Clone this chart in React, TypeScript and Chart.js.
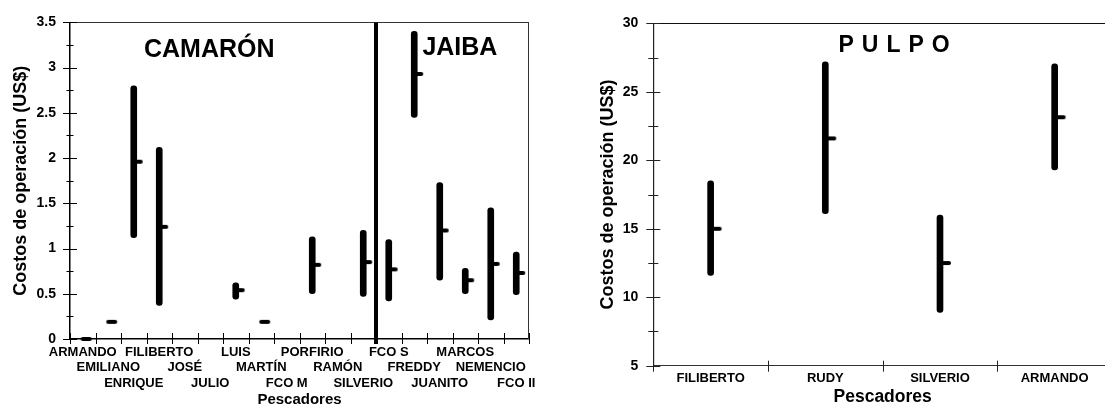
import React, { useEffect, useRef } from 'react';
import { Chart, registerables } from 'chart.js';

Chart.register(...registerables);

const FONT = '"Liberation Sans", Arial, Helvetica, sans-serif';

// ---- Left chart: CAMARÓN / JAIBA ----
const leftLabels = ['ARMANDO', 'EMILIANO', 'ENRIQUE', 'FILIBERTO', 'JOSÉ', 'JULIO', 'LUIS', 'MARTÍN', 'FCO M', 'PORFIRIO', 'RAMÓN', 'SILVERIO', 'FCO S', 'FREDDY', 'JUANITO', 'MARCOS', 'NEMENCIO', 'FCO II'];
const leftMin = [null, null, 1.12, 0.37, null, null, 0.44, null, null, 0.50, null, 0.47, 0.42, 2.45, 0.65, 0.50, 0.21, 0.49];
const leftMax = [null, null, 2.80, 2.12, null, null, 0.62, null, null, 1.13, null, 1.20, 1.10, 3.40, 1.73, 0.78, 1.45, 0.96];
const leftMean = [0, 0.19, 1.96, 1.24, null, null, 0.54, 0.19, null, 0.82, null, 0.85, 0.77, 2.93, 1.20, 0.65, 0.83, 0.73];
const leftYRange = [0, 3.5];
const leftYStep = 0.5;
const leftDividerAfter = 11; // between SILVERIO and FCO S
const leftSections = ['CAMARÓN', 'JAIBA'];

// ---- Right chart: PULPO ----
const rightLabels = ['FILIBERTO', 'RUDY', 'SILVERIO', 'ARMANDO'];
const rightMin = [11.6, 16.1, 8.9, 19.3];
const rightMax = [18.5, 27.2, 16.0, 27.05];
const rightMean = [15.0, 21.6, 12.5, 23.15];
const rightYRange = [5, 30];
const rightYStep = 5;
const rightSection = 'PULPO';

function makeTickImage(len: number, thick: number) {
  const c = document.createElement('canvas');
  const w = (len + thick) * 2 + 2;
  const h = thick + 4;
  c.width = w;
  c.height = h;
  const ctx = c.getContext('2d')!;
  ctx.strokeStyle = '#000';
  ctx.lineWidth = thick;
  ctx.lineCap = 'round';
  ctx.beginPath();
  ctx.moveTo(w / 2, h / 2);
  ctx.lineTo(w / 2 + len, h / 2);
  ctx.stroke();
  return c;
}

const decorPlugin = {
  id: 'decor',
  afterDraw(chart: any, _args: any, o: any) {
    const { ctx, chartArea: ca, scales } = chart;
    const xs = scales.x;
    const ys = scales.y;
    ctx.save();
    // frame (top + optional right)
    ctx.strokeStyle = o.frameColor;
    ctx.lineWidth = 1;
    ctx.beginPath();
    ctx.moveTo(ca.left, Math.round(ca.top) + 0.5);
    ctx.lineTo(ca.right, Math.round(ca.top) + 0.5);
    if (o.rightBorder) {
      ctx.moveTo(Math.round(ca.right) - 0.5, ca.top);
      ctx.lineTo(Math.round(ca.right) - 0.5, ca.bottom);
    }
    ctx.stroke();
    // tick marks crossing the axes
    ctx.strokeStyle = o.tickColor;
    ctx.lineWidth = o.tickWidth;
    ctx.beginPath();
    const steps = Math.round((ys.max - ys.min) / o.minorStep);
    for (let k = 0; k <= steps; k++) {
      const v = ys.min + k * o.minorStep;
      const major = k % o.minorPerMajor === 0;
      const py = Math.round(ys.getPixelForValue(v)) + 0.5;
      const len = major ? o.yMajor : o.yMinor;
      ctx.moveTo(ca.left - len[0], py);
      ctx.lineTo(ca.left + len[1], py);
    }
    const n = chart.data.labels.length;
    for (let i = 0; i <= n; i++) {
      const px = Math.round(xs.getPixelForValue(i - 0.5)) + 0.5;
      ctx.moveTo(px, ca.bottom - o.xTick[0]);
      ctx.lineTo(px, ca.bottom + o.xTick[1]);
    }
    ctx.stroke();
    // divider
    if (o.divider != null) {
      const px = xs.getPixelForValue(o.divider);
      ctx.lineWidth = 4;
      ctx.strokeStyle = '#000';
      ctx.beginPath();
      ctx.moveTo(px, ca.top);
      ctx.lineTo(px, ca.bottom + 5);
      ctx.stroke();
    }
    // section titles
    for (const t of o.texts) {
      ctx.font = `bold ${t.size}px ${FONT}`;
      ctx.fillStyle = '#000';
      ctx.textBaseline = 'alphabetic';
      const cx = xs.getPixelForValue(t.x);
      const by = ys.getPixelForValue(t.y);
      if (t.spacing) {
        const chars = t.text.split('');
        const widths = chars.map((c: string) => ctx.measureText(c).width);
        const total = widths.reduce((a: number, b: number) => a + b, 0) + t.spacing * (chars.length - 1);
        let x = cx - total / 2;
        ctx.textAlign = 'left';
        chars.forEach((c: string, i: number) => {
          ctx.fillText(c, x, by);
          x += widths[i] + t.spacing;
        });
      } else {
        ctx.textAlign = 'center';
        ctx.fillText(t.text, cx, by);
      }
    }
    ctx.restore();
  },
};

function leftConfig(): any {
  return {
    type: 'bar',
    data: {
      labels: leftLabels,
      datasets: [
        {
          type: 'line',
          data: leftMean,
          showLine: false,
          pointStyle: makeTickImage(7, 4),
          pointRadius: 5,
          pointHoverRadius: 5,
          clip: false,
          order: 0,
        },
        {
          type: 'bar',
          data: leftMin.map((m, i) => (m == null ? null : [m, leftMax[i]])),
          backgroundColor: '#000',
          barThickness: 6,
          borderRadius: 3,
          borderSkipped: false,
          clip: false,
          order: 1,
        },
      ],
    },
    options: {
      animation: false,
      responsive: false,
      devicePixelRatio: 1,
      events: [],
      layout: { padding: { top: 20, right: 16, bottom: 0, left: 0 } },
      plugins: {
        legend: { display: false },
        tooltip: { enabled: false },
        decor: {
          frameColor: '#333',
          rightBorder: true,
          tickColor: '#000',
          tickWidth: 1,
          minorStep: leftYStep / 2,
          minorPerMajor: 2,
          yMajor: [7, 7],
          yMinor: [3.5, 3.5],
          xTick: [6, 5],
          divider: leftDividerAfter + 0.5,
          texts: [
            { text: leftSections[0], x: 4.96, y: 3.117, size: 25 },
            { text: leftSections[1], x: 14.79, y: 3.136, size: 25 },
          ],
        },
      },
      scales: {
        x: {
          type: 'category',
          offset: true,
          grid: { display: false, drawTicks: false, offset: true },
          border: { display: true, color: '#000', width: 1.5 },
          ticks: {
            autoSkip: false,
            maxRotation: 0,
            minRotation: 0,
            padding: 5.4,
            color: '#000',
            font: { family: FONT, size: 13, weight: 'bold', lineHeight: 1.19 },
            callback: (_v: any, i: number) => [...Array(i % 3).fill(''), leftLabels[i]],
          },
          title: {
            display: true,
            text: 'Pescadores',
            color: '#000',
            font: { family: FONT, size: 15, weight: 'bold', lineHeight: 1 },
            padding: 0,
          },
          afterFit: (s: any) => {
            s.height = 68;
          },
        },
        y: {
          type: 'linear',
          min: leftYRange[0],
          max: leftYRange[1],
          grid: { display: false, drawTicks: false },
          border: { display: true, color: '#000', width: 1.5 },
          ticks: {
            stepSize: leftYStep,
            padding: 14,
            color: '#000',
            font: { family: FONT, size: 14, weight: 'bold' },
            callback: (v: any) => String(v),
          },
          title: {
            display: true,
            text: 'Costos de operación (US$)',
            color: '#000',
            font: { family: FONT, size: 18, weight: 'bold', lineHeight: 1.2 },
            padding: { top: 10.5, bottom: 0 },
          },
          afterFit: (s: any) => {
            s.width = 70;
          },
        },
      },
    },
    plugins: [decorPlugin],
  };
}

function rightConfig(): any {
  return {
    type: 'bar',
    data: {
      labels: rightLabels,
      datasets: [
        {
          type: 'line',
          data: rightMean,
          showLine: false,
          pointStyle: makeTickImage(9, 4),
          pointRadius: 5,
          pointHoverRadius: 5,
          clip: false,
          order: 0,
        },
        {
          type: 'bar',
          data: rightMin.map((m, i) => [m, rightMax[i]]),
          backgroundColor: '#000',
          barThickness: 6,
          borderRadius: 3,
          borderSkipped: false,
          clip: false,
          order: 1,
        },
      ],
    },
    options: {
      animation: false,
      responsive: false,
      devicePixelRatio: 1,
      events: [],
      layout: { padding: { top: 21.7, right: 13, bottom: 0, left: 0 } },
      plugins: {
        legend: { display: false },
        tooltip: { enabled: false },
        decor: {
          frameColor: '#111',
          rightBorder: false,
          tickColor: '#222',
          tickWidth: 1,
          minorStep: rightYStep / 2,
          minorPerMajor: 2,
          yMajor: [7, 7],
          yMinor: [5, 5],
          xTick: [5, 6],
          divider: null,
          texts: [{ text: rightSection, x: 1.6, y: 27.94, size: 23, spacing: 8 }],
        },
      },
      scales: {
        x: {
          type: 'category',
          offset: true,
          grid: { display: false, drawTicks: false, offset: true },
          border: { display: true, color: '#333', width: 1 },
          ticks: {
            autoSkip: false,
            maxRotation: 0,
            minRotation: 0,
            padding: 5.3,
            color: '#000',
            font: { family: FONT, size: 13, weight: 'bold', lineHeight: 1.2 },
          },
          title: {
            display: true,
            text: 'Pescadores',
            color: '#000',
            font: { family: FONT, size: 17.5, weight: 'bold', lineHeight: 1.18 },
            padding: 0,
          },
          afterFit: (s: any) => {
            s.height = 41.3;
          },
        },
        y: {
          type: 'linear',
          min: rightYRange[0],
          max: rightYRange[1],
          grid: { display: false, drawTicks: false },
          border: { display: true, color: '#222', width: 1.2 },
          ticks: {
            stepSize: rightYStep,
            padding: 15,
            color: '#000',
            font: { family: FONT, size: 14, weight: 'bold' },
            callback: (v: any) => String(v),
          },
          title: {
            display: true,
            text: 'Costos de operación (US$)',
            color: '#000',
            font: { family: FONT, size: 18, weight: 'bold', lineHeight: 1.2 },
            padding: { top: 17, bottom: 0 },
          },
          afterFit: (s: any) => {
            s.width = 73.3;
          },
        },
      },
    },
    plugins: [decorPlugin],
  };
}

function ChartCanvas({ make, left, width, height }: { make: () => any; left: number; width: number; height: number }) {
  const ref = useRef<HTMLCanvasElement>(null);
  useEffect(() => {
    const chart = new Chart(ref.current as HTMLCanvasElement, make());
    return () => chart.destroy();
  }, [make]);
  return (
    <canvas
      ref={ref}
      width={width}
      height={height}
      style={{ position: 'absolute', left, top: 0, width, height, display: 'block' }}
    />
  );
}

export default function App() {
  return (
    <div
      style={{
        position: 'absolute',
        left: 0,
        top: 0,
        width: 1105,
        height: 407,
        overflow: 'hidden',
        background: '#fff',
      }}
    >
      <ChartCanvas make={leftConfig} left={0} width={545} height={407} />
      <ChartCanvas make={rightConfig} left={580} width={545} height={407} />
    </div>
  );
}
